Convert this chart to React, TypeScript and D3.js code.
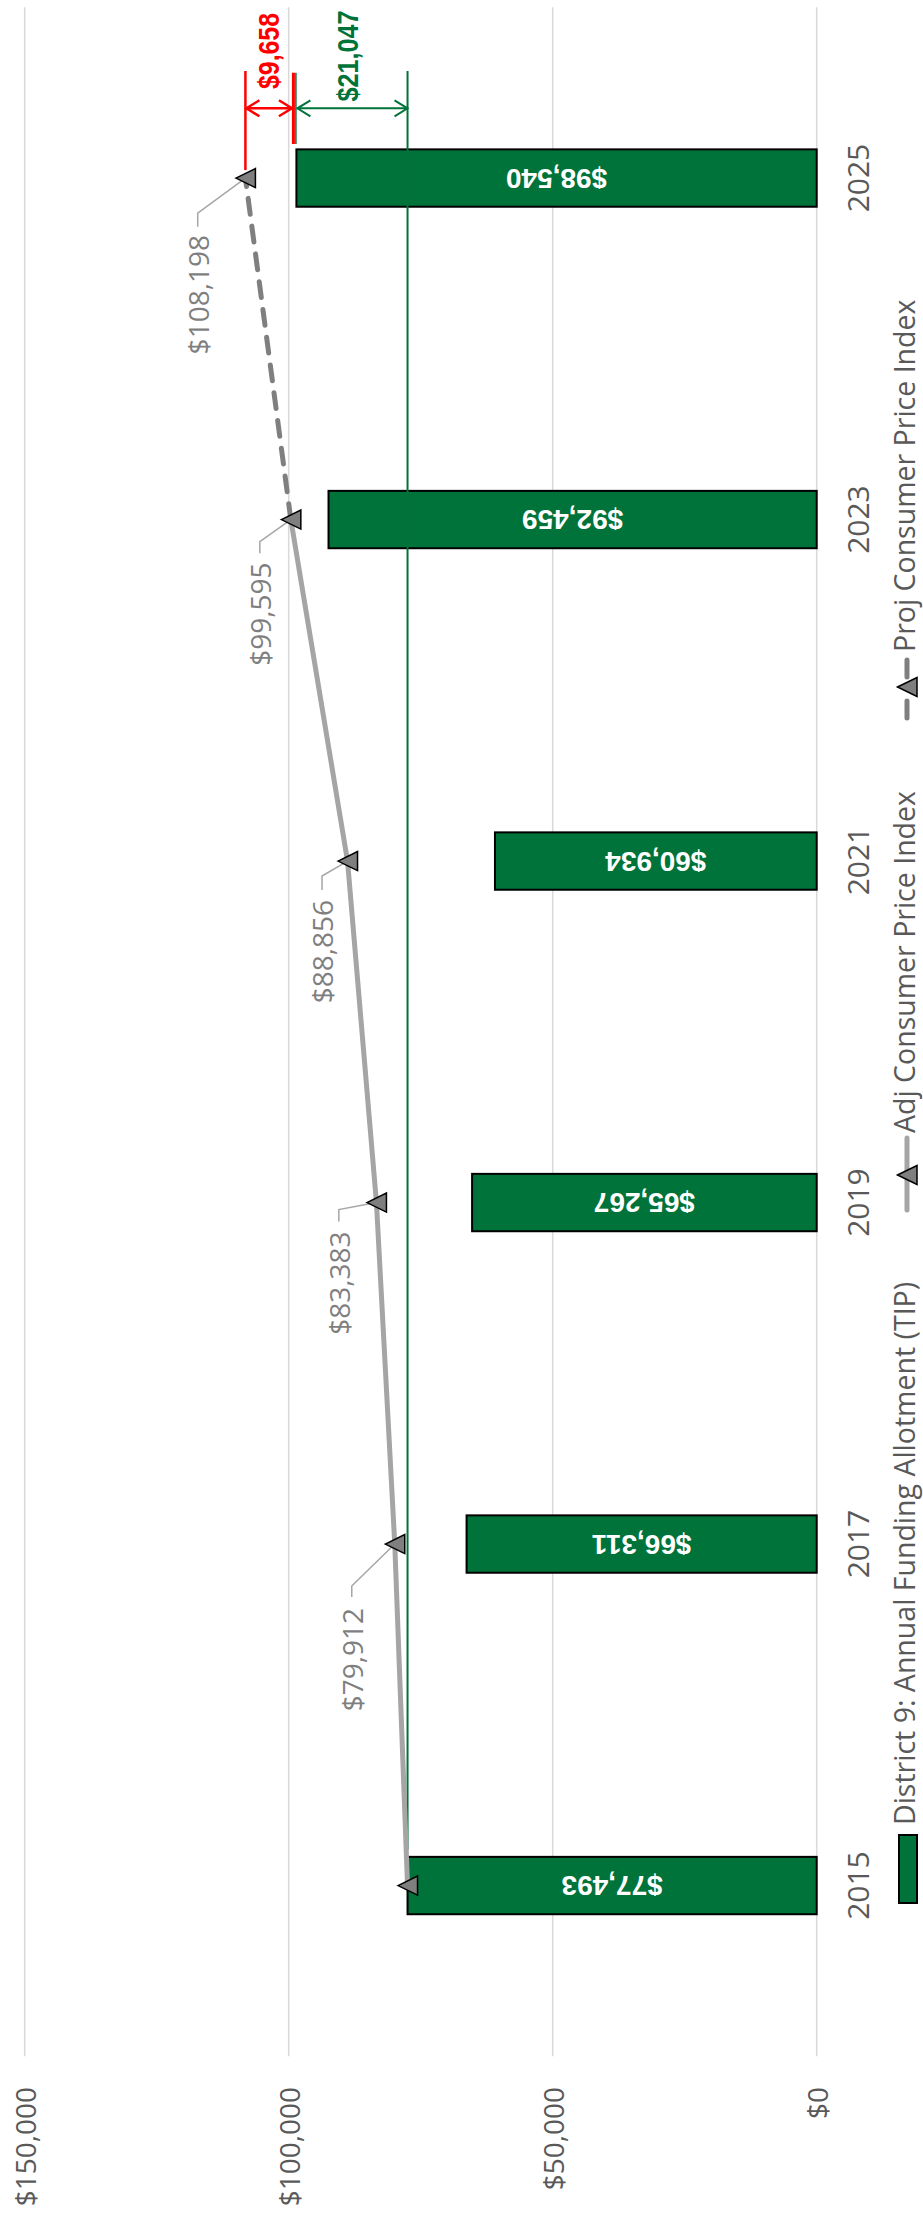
import React from 'react';
import * as d3 from 'd3';

// ---------- data ----------
const years = ['2015', '2017', '2019', '2021', '2023', '2025'];
const allotment = [77493, 66311, 65267, 60934, 92459, 98540];
const adjYears = ['2015', '2017', '2019', '2021', '2023'];
const adjCPI = [77493, 79912, 83383, 88856, 99595];
const projYears = ['2023', '2025'];
const projCPI = [99595, 108198];
const cpiLabelYears = ['2017', '2019', '2021', '2023', '2025'];
const cpiLabelValues = [79912, 83383, 88856, 99595, 108198];
const valueTicks = [0, 50000, 100000, 150000];
const baselineValue = 77493;
const gapCPI = 9658;
const gapBase = 21047;
const legendLabels = [
  'District 9: Annual Funding Allotment (TIP)',
  'Adj Consumer Price Index',
  'Proj Consumer Price Index',
];

// ---------- layout (pixel offsets, not data) ----------
// leader offsets relative to marker: [dxBend, dyBend, dyEnd, dyText]
const leaderLayout = [
  [-43, 42, 53, 64],
  [-37.6, 7, 19, 29],
  [-25.5, 15, 29, 39],
  [-31, 22, 33.6, 43],
  [-47.7, 35, 48.7, 57],
];
const legendKeyBottom = [1903, 1210, 720];
const legendTextStart = [1825, 1133, 652];

const W = 923;
const H = 2224;
const GREEN = '#00733A';
const RED = '#FF0000';
const GRID = '#D9D9D9';
const AXIS_TEXT = '#595959';
const LABEL_GRAY = '#7F7F7F';
const ADJ_COLOR = '#A5A5A5';
const PROJ_COLOR = '#7F7F7F';
const FONT = "'Open Sans', 'Noto Sans', sans-serif";
const BOLDFONT = "'Liberation Sans', Arial, sans-serif";

function tri(cx: number, cy: number) {
  return `M${cx - 9.5},${cy} L${cx + 10},${cy - 9.5} L${cx + 10},${cy + 9.5} Z`;
}

export default function App() {
  const x = d3.scaleLinear().domain([0, 150000]).range([816.7, 24.7]);
  const y = d3
    .scaleBand<string>()
    .domain([...years].reverse())
    .range([7.3, 2056.3])
    .paddingInner(0)
    .paddingOuter(0);
  const cy = (yr: string) => (y(yr) as number) + y.bandwidth() / 2;
  const barT = y.step() * 0.168;
  const fmt = d3.format(',');
  const money = (v: number) => '$' + fmt(v);
  const plotTop = y.range()[0];
  const plotBottom = y.range()[1];

  const line = d3
    .line<[string, number]>()
    .x((d) => x(d[1]))
    .y((d) => cy(d[0]));

  const adjPts: [string, number][] = adjYears.map((yr, i) => [yr, adjCPI[i]]);
  const projPts: [string, number][] = projYears.map((yr, i) => [yr, projCPI[i]]);

  const lastYear = years[years.length - 1];
  const lastBar = allotment[allotment.length - 1];
  const lastCPI = projCPI[projCPI.length - 1];
  const xCPI = x(lastCPI);
  const xBar = x(lastBar);
  const xBase = x(baselineValue);
  const annTop = 71;
  const arrowY = 108.3;
  const firstBarTop = cy(years[0]) - barT / 2;

  const arrowHead = (px: number, py: number, dir: number) =>
    `M${px + dir * 13},${py - 8} L${px},${py} L${px + dir * 13},${py + 8}`;

  return (
    <svg
      width={W}
      height={H}
      viewBox={`0 0 ${W} ${H}`}
      style={{ position: 'absolute', left: 0, top: 0, display: 'block', background: '#fff' }}
    >
      <rect x={0} y={0} width={W} height={H} fill="#fff" />
      {valueTicks.map((t) => (
        <line key={'g' + t} x1={x(t)} x2={x(t)} y1={plotTop} y2={plotBottom} stroke={GRID} strokeWidth={1.5} />
      ))}
      {valueTicks.map((t) => (
        <text
          key={'t' + t}
          transform={`translate(${x(t)},2087) rotate(-90)`}
          textAnchor="end"
          dominantBaseline="central"
          fontFamily={FONT}
          fontSize={28}
          fill={AXIS_TEXT}
        >
          {money(t)}
        </text>
      ))}
      {years.map((yr) => (
        <text
          key={'c' + yr}
          transform={`translate(869,${cy(yr)}) rotate(-90)`}
          textAnchor="middle"
          fontFamily={FONT}
          fontSize={30}
          fill={AXIS_TEXT}
        >
          {yr}
        </text>
      ))}
      {years.map((yr, i) => (
        <rect
          key={'b' + yr}
          x={x(allotment[i])}
          y={cy(yr) - barT / 2}
          width={x(0) - x(allotment[i])}
          height={barT}
          fill={GREEN}
          stroke="#000"
          strokeWidth={2}
        />
      ))}
      {years.map((yr, i) => (
        <text
          key={'bl' + yr}
          transform={`translate(${(x(0) + x(allotment[i])) / 2},${cy(yr)}) rotate(180)`}
          textAnchor="middle"
          dominantBaseline="central"
          fontFamily={BOLDFONT}
          fontWeight="bold"
          fontSize={28}
          fill="#fff"
        >
          {money(allotment[i])}
        </text>
      ))}
      <line x1={xBase} x2={xBase} y1={annTop} y2={firstBarTop - 7} stroke={GREEN} strokeWidth={2} />

      {cpiLabelYears.map((yr, i) => {
        const mx = x(cpiLabelValues[i]);
        const my = cy(yr);
        const [dx, dyB, dyE] = leaderLayout[i];
        return (
          <polyline
            key={'ld' + yr}
            points={`${mx},${my} ${mx + dx},${my + dyB} ${mx + dx},${my + dyE}`}
            fill="none"
            stroke="#A6A6A6"
            strokeWidth={1.5}
          />
        );
      })}

      <path d={line(adjPts) || ''} fill="none" stroke={ADJ_COLOR} strokeWidth={5} strokeLinejoin="round" />
      <path
        d={line(projPts) || ''}
        fill="none"
        stroke={PROJ_COLOR}
        strokeWidth={5}
        strokeDasharray="16 12"
        strokeLinecap="round"
      />
      {adjPts.concat(projPts.slice(1)).map((d) => (
        <path key={'m' + d[0]} d={tri(x(d[1]), cy(d[0]))} fill="#7F7F7F" stroke="#000" strokeWidth={1.5} />
      ))}
      {cpiLabelYears.map((yr, i) => {
        const mx = x(cpiLabelValues[i]);
        const my = cy(yr);
        const [dx, , , dyT] = leaderLayout[i];
        return (
          <text
            key={'cl' + yr}
            transform={`translate(${mx + dx},${my + dyT}) rotate(-90)`}
            textAnchor="end"
            dominantBaseline="central"
            fontFamily={FONT}
            fontSize={28}
            fill={LABEL_GRAY}
          >
            {money(cpiLabelValues[i])}
          </text>
        );
      })}

      {/* annotation: red gap */}
      <line x1={xCPI} x2={xCPI} y1={annTop} y2={cy(lastYear) - 8} stroke={RED} strokeWidth={2.5} />
      <line x1={xBar - 3} x2={xBar - 3} y1={annTop + 1.7} y2={144} stroke={RED} strokeWidth={3} />
      <line x1={xBar - 0.5} x2={xBar - 0.5} y1={annTop + 1.7} y2={144} stroke={GREEN} strokeWidth={1.5} />
      <line x1={xCPI} x2={xBar - 4} y1={arrowY} y2={arrowY} stroke={RED} strokeWidth={2.5} />
      <path d={arrowHead(xCPI + 1, arrowY, 1)} fill="none" stroke={RED} strokeWidth={2.5} />
      <path d={arrowHead(xBar - 4.5, arrowY, -1)} fill="none" stroke={RED} strokeWidth={2.5} />
      <text
        transform={`translate(${(xCPI + xBar) / 2 - 2},51) rotate(-90)`}
        textAnchor="middle"
        dominantBaseline="central"
        fontFamily={BOLDFONT}
        fontWeight="bold"
        fontSize={29}
        textLength={76}
        lengthAdjust="spacingAndGlyphs"
        fill={RED}
      >
        {money(gapCPI)}
      </text>
      {/* annotation: green gap */}
      <line x1={xBar + 1} x2={xBase} y1={arrowY} y2={arrowY} stroke={GREEN} strokeWidth={2} />
      <path d={arrowHead(xBar + 1, arrowY, 1)} fill="none" stroke={GREEN} strokeWidth={2} />
      <path d={arrowHead(xBase, arrowY, -1)} fill="none" stroke={GREEN} strokeWidth={2} />
      <text
        transform={`translate(${(xBar + xBase) / 2 - 4},56) rotate(-90)`}
        textAnchor="middle"
        dominantBaseline="central"
        fontFamily={BOLDFONT}
        fontWeight="bold"
        fontSize={29}
        textLength={91}
        lengthAdjust="spacingAndGlyphs"
        fill={GREEN}
      >
        {money(gapBase)}
      </text>

      {/* legend */}
      <rect x={899} y={legendKeyBottom[0] - 68} width={18} height={68} fill={GREEN} stroke="#000" strokeWidth={2} />
      <line x1={907} x2={907} y1={legendKeyBottom[1]} y2={legendKeyBottom[1] - 72} stroke={ADJ_COLOR} strokeWidth={5} strokeLinecap="round" />
      <path d={tri(907, legendKeyBottom[1] - 35)} fill="#7F7F7F" stroke="#000" strokeWidth={1.5} />
      <line
        x1={907}
        x2={907}
        y1={legendKeyBottom[2] - 2}
        y2={legendKeyBottom[2] - 63}
        stroke={PROJ_COLOR}
        strokeWidth={5}
        strokeLinecap="round"
        strokeDasharray="17 24"
      />
      <path d={tri(907, legendKeyBottom[2] - 33)} fill="#7F7F7F" stroke="#000" strokeWidth={1.5} />
      {legendLabels.map((lab, i) => (
        <text
          key={'lg' + i}
          transform={`translate(915,${legendTextStart[i]}) rotate(-90)`}
          textAnchor="start"
          fontFamily={FONT}
          fontSize={28.5}
          fill={AXIS_TEXT}
        >
          {lab}
        </text>
      ))}
    </svg>
  );
}
